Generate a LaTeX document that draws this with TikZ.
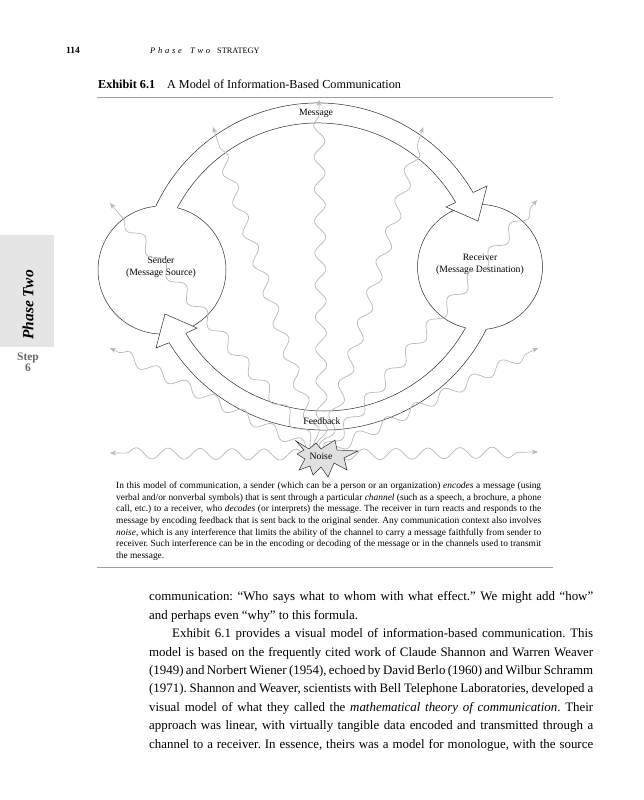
\documentclass[tikz,border=0pt]{standalone}
\usepackage{fontspec}
\setmainfont{Liberation Serif}
\usetikzlibrary{decorations.pathmorphing,arrows.meta}
\definecolor{ink}{gray}{0.18}
\definecolor{wavegray}{gray}{0.72}
\definecolor{tabgray}{gray}{0.9}
\definecolor{rulegray}{gray}{0.62}
\definecolor{noisefill}{gray}{0.88}
\definecolor{stepgray}{gray}{0.4}
\newcommand{\jline}[2]{\makebox[#1][s]{#2}}
\frenchspacing
\begin{document}
\begin{tikzpicture}[x=1pt,y=1pt,
 bandline/.style={draw=ink, line width=0.5pt},
 wave/.style={draw=wavegray, line width=0.7pt, decorate,
   decoration={snake, segment length=32pt, amplitude=5.5pt, post length=6pt},
   -{Stealth[length=6pt,width=5pt]}},
 lbl/.style={font=\fontsize{9.7pt}{12pt}\selectfont, align=center, inner sep=0},
 capline/.style={anchor=base west, inner sep=0, font=\fontsize{9.4pt}{11.7pt}\selectfont},
 bodyline/.style={anchor=base west, inner sep=0, font=\fontsize{12.9pt}{18.4pt}\selectfont},
 rulestyle/.style={draw=rulegray, line width=0.8pt}
]
\useasboundingbox (0,0) rectangle (643,800);
\fill[white] (0,0) rectangle (643,800);

% side tab
\fill[tabgray] (0,453) rectangle (54,565);
\node[rotate=90, inner sep=0, font=\fontsize{15.5pt}{16pt}\selectfont\bfseries\itshape] (tabtxt) at (28,495) {Phase Two};
\node[inner sep=0, align=center, text=stepgray, font=\fontsize{11.5pt}{9pt}\selectfont\bfseries] (step) at (28,438) {Step\\6};

% running head
\node[anchor=base west, inner sep=0, font=\fontsize{9.5pt}{11pt}\selectfont\bfseries] (pageno) at (66,746) {114};
\node[anchor=base west, inner sep=0, font=\fontsize{8.5pt}{10pt}\selectfont\itshape] (runhead) at (150,746) {\makebox[60pt][s]{P h a s e \ \ T w o}};
\node[anchor=base west, inner sep=0, font=\fontsize{8.3pt}{10pt}\selectfont] (strat) at (217,746) {STRATEGY};

% title
\node[anchor=base west, inner sep=0, font=\fontsize{12.2pt}{14pt}\selectfont] (title) at (98,711) {{\bfseries Exhibit 6.1}\hspace{12pt}A Model of Information-Based Communication};
\draw[rulestyle] (97,703) -- (553,703);

% circles
\node[circle, draw=ink, line width=0.5pt, minimum size=128pt, inner sep=0] (sender) at (162,530) {};
\node[circle, draw=ink, line width=0.5pt, minimum size=125pt, inner sep=0] (receiver) at (480,533) {};

% band coordinates
\coordinate (mo1) at (149.79,579.22);
\coordinate (mo2) at (473.02,607.5);
\coordinate (mb1) at (487,614);
\coordinate (mtip) at (478,579);
\coordinate (mb2) at (446,593);
\coordinate (mi2) at (455.70,597.5);
\coordinate (fo1) at (494.09,489.09);
\coordinate (fo2) at (169.17,457.24);
\coordinate (fb1) at (156,452);
\coordinate (ftip) at (165,486);
\coordinate (fb2) at (197,472);
\coordinate (fi2) at (185.73,466.6);

% band fills
\fill[white] (mo1) arc[start angle=160, end angle=30, radius=179pt] -- (mb1) -- (mtip) -- (mb2) -- (mi2) arc[start angle=30, end angle=155, radius=159pt] -- cycle;
\fill[white] (fo1) arc[start angle=-20, end angle=-148.8, radius=181pt] -- (fb1) -- (ftip) -- (fb2) -- (fi2) arc[start angle=-148.6, end angle=-25, radius=162pt] -- cycle;

% band edges, clipped outside the circles
\begin{scope}
\clip (0,0) -- (0,800) -- (643,800) -- (643,0) -- cycle
  (226,530) arc[start angle=0, end angle=360, radius=64pt]
  (542.5,533) arc[start angle=0, end angle=360, radius=62.5pt];
\draw[bandline] (mo1) arc[start angle=160, end angle=30, radius=179pt];
\draw[bandline] (mi2) arc[start angle=30, end angle=155, radius=159pt];
\draw[bandline] (fo1) arc[start angle=-20, end angle=-148.8, radius=181pt];
\draw[bandline] (fi2) arc[start angle=-148.6, end angle=-25, radius=162pt];
\end{scope}
\draw[bandline] (mo2) -- (mb1) -- (mtip) -- (mb2) -- (mi2);
\draw[bandline] (fo2) -- (fb1) -- (ftip) -- (fb2) -- (fi2);

% circle labels
\node[lbl] (sendertxt) at (161,533) {Sender\\(Message Source)};
\node[lbl] (receivertxt) at (480,536) {Receiver\\(Message Destination)};

% noise waves
\coordinate (noisec) at (322,345);
\coordinate (w1) at (319,700);
\coordinate (w2) at (213,673);
\coordinate (w3) at (423,673);
\coordinate (w4) at (110,597);
\coordinate (w5) at (537,600);
\coordinate (w6) at (110,452);
\coordinate (w7) at (538,452);
\coordinate (w8) at (110,347);
\coordinate (w9) at (538,348);
\foreach \w in {w1,w2,w3,w4,w5,w6,w7,w8,w9} { \draw[wave] (noisec) -- (\w); }

% band labels
\node[lbl] (msglbl) at (316,687) {Message};
\node[lbl] (fblbl) at (322,379) {Feedback};

% noise burst
\draw[ink, fill=noisefill, line width=0.5pt] (296,359) -- (309,351) -- (316,357) -- (321,351) -- (335,360) -- (337,350) -- (358,349) -- (344,342) -- (347,330) -- (334,337) -- (328,323) -- (321,333) -- (313,325) -- (310,334) -- (299,330) -- (305,341) -- (297,346) -- (304,350) -- cycle;
\node[lbl] (noiselbl) at (321,344) {Noise};

% caption
\node[capline] (c1) at (116,311.5) {\jline{425pt}{In this model of communication, a sender (which can be a person or an organization) \textit{encodes} a message (using}};
\node[capline] (c2) at (116,299.8) {\jline{425pt}{verbal and/or nonverbal symbols) that is sent through a particular \textit{channel} (such as a speech, a brochure, a phone}};
\node[capline] (c3) at (116,288.2) {\jline{425pt}{call, etc.) to a receiver, who \textit{decodes} (or interprets) the message. The receiver in turn reacts and responds to the}};
\node[capline] (c4) at (116,276.5) {\jline{425pt}{message by encoding feedback that is sent back to the original sender. Any communication context also involves}};
\node[capline] (c5) at (116,264.8) {\jline{425pt}{\textit{noise}, which is any interference that limits the ability of the channel to carry a message faithfully from sender to}};
\node[capline] (c6) at (116,253.2) {\jline{425pt}{receiver. Such interference can be in the encoding or decoding of the message or in the channels used to transmit}};
\node[capline] (c7) at (116,241.5) {the message.};
\draw[rulestyle] (97,233) -- (553,233);

% body text
\node[bodyline] (b1) at (149,199) {\jline{444pt}{communication: “Who says what to whom with what effect.” We might add “how”}};
\node[bodyline] (b2) at (149,180.6) {and perhaps even “why” to this formula.};
\node[bodyline] (b3) at (172,162.2) {\jline{421pt}{Exhibit 6.1 provides a visual model of information-based communication. This}};
\node[bodyline] (b4) at (149,143.8) {\jline{444pt}{model is based on the frequently cited work of Claude Shannon and Warren Weaver}};
\node[bodyline] (b5) at (149,125.4) {\jline{444pt}{(1949) and Norbert Wiener (1954), echoed by David Berlo (1960) and Wilbur Schramm}};
\node[bodyline] (b6) at (149,107) {\jline{444pt}{(1971). Shannon and Weaver, scientists with Bell Telephone Laboratories, developed a}};
\node[bodyline] (b7) at (149,88.6) {\jline{444pt}{visual model of what they called the \textit{mathematical theory of communication}. Their}};
\node[bodyline] (b8) at (149,70.2) {\jline{444pt}{approach was linear, with virtually tangible data encoded and transmitted through a}};
\node[bodyline] (b9) at (149,51.8) {\jline{444pt}{channel to a receiver. In essence, theirs was a model for monologue, with the source}};
\end{tikzpicture}
\end{document}
